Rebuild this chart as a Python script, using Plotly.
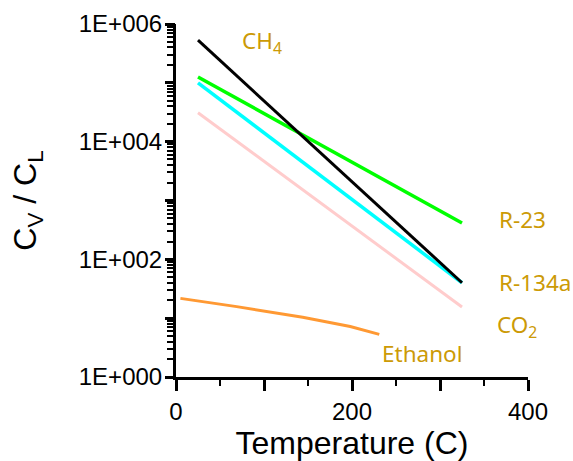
import plotly.graph_objects as go
import math

# Data
ch4_T = [25, 325]
ch4_v = [5.3e5, 40]
r23_T = [25, 325]
r23_v = [1.26e5, 414]
r134a_T = [25, 325]
r134a_v = [1.0e5, 40]
co2_T = [25, 325]
co2_v = [3.1e4, 15.5]
eth_T = [5, 69, 144, 198, 231]
eth_v = [21.7, 15.7, 10.4, 7.2, 5.3]

y_decades = [1, 10, 100, 1e3, 1e4, 1e5, 1e6]
y_label_map = {1: "1E+000", 100: "1E+002", 1e4: "1E+004", 1e6: "1E+006"}
x_tickvals = [0, 100, 200, 300, 400]
x_ticktext = ["0", "", "200", "", "400"]
y_all = sorted(y_decades + [m * 10 ** d for d in range(6) for m in range(2, 10)])
y_all_text = [y_label_map.get(v, "") for v in y_all]

labels = [
    ("CH<sub>4</sub>", 73, 4.85e5),
    ("R-23", 365, 470),
    ("R-134a", 365, 41),
    ("CO<sub>2</sub>", 363, 7.5),
    ("Ethanol", 232, 2.5),
]

fig = go.Figure()
series = [
    (eth_T, eth_v, "#FF9933", 3),
    (co2_T, co2_v, "#FFCCCC", 3),
    (r134a_T, r134a_v, "#00FFFF", 3.5),
    (r23_T, r23_v, "#00FF00", 3.5),
    (ch4_T, ch4_v, "#000000", 3),
]
for xs, ys, c, w in series:
    fig.add_trace(go.Scatter(x=xs, y=ys, mode="lines",
                             line=dict(color=c, width=w), showlegend=False,
                             hoverinfo="skip"))
# transparent copy on the overlay axis that carries the longer decade ticks
fig.add_trace(go.Scatter(x=eth_T, y=eth_v, yaxis="y2", mode="lines",
                         line=dict(color="rgba(0,0,0,0)", width=1), opacity=0,
                         showlegend=False, hoverinfo="skip"))

for txt, x, y in labels:
    fig.add_annotation(x=x, y=math.log10(y), text=txt, showarrow=False,
                       xanchor="left", yanchor="middle",
                       font=dict(family="Noto Sans", size=22.5, color="#CC9A06"))

fig.update_layout(
    width=573, height=461,
    margin=dict(l=176, r=45, t=24, b=84),
    paper_bgcolor="white", plot_bgcolor="white",
    font=dict(family="Liberation Sans, Arial", color="black"),
    xaxis=dict(
        range=[0, 400], tickmode="array", tickvals=x_tickvals, ticktext=x_ticktext,
        ticks="outside", ticklen=11, tickwidth=2.5, tickcolor="black",
        showline=True, linecolor="black", linewidth=3,
        showgrid=False, zeroline=False, automargin=False,
        tickfont=dict(size=24),
        minor=dict(ticks="outside", ticklen=6, tickwidth=2, tickcolor="black",
                   dtick=50, showgrid=False),
        title=dict(text="Temperature (C)", font=dict(size=32), standoff=13),
    ),
    yaxis=dict(
        type="log", range=[0, 6], tickmode="array", tickvals=y_all, ticktext=y_all_text,
        ticks="outside", ticklen=6, tickwidth=2, tickcolor="black",
        showline=True, linecolor="black", linewidth=3,
        showgrid=False, zeroline=False, automargin=False,
        tickfont=dict(size=24),
        title=dict(text="C<sub>V</sub> / C<sub>L</sub>", font=dict(size=32), standoff=33),
    ),
    yaxis2=dict(type="log", range=[0, 6], overlaying="y", anchor="x", side="left",
                tickmode="array", tickvals=y_decades, ticktext=[""] * len(y_decades),
                ticks="outside", ticklen=10, tickwidth=2.5, tickcolor="black",
                showticklabels=True, automargin=False,
                showline=False, showgrid=False, zeroline=False),
)
fig.write_html("out.html", config={"displayModeBar": False},
               post_script="document.body.style.margin='0';")
